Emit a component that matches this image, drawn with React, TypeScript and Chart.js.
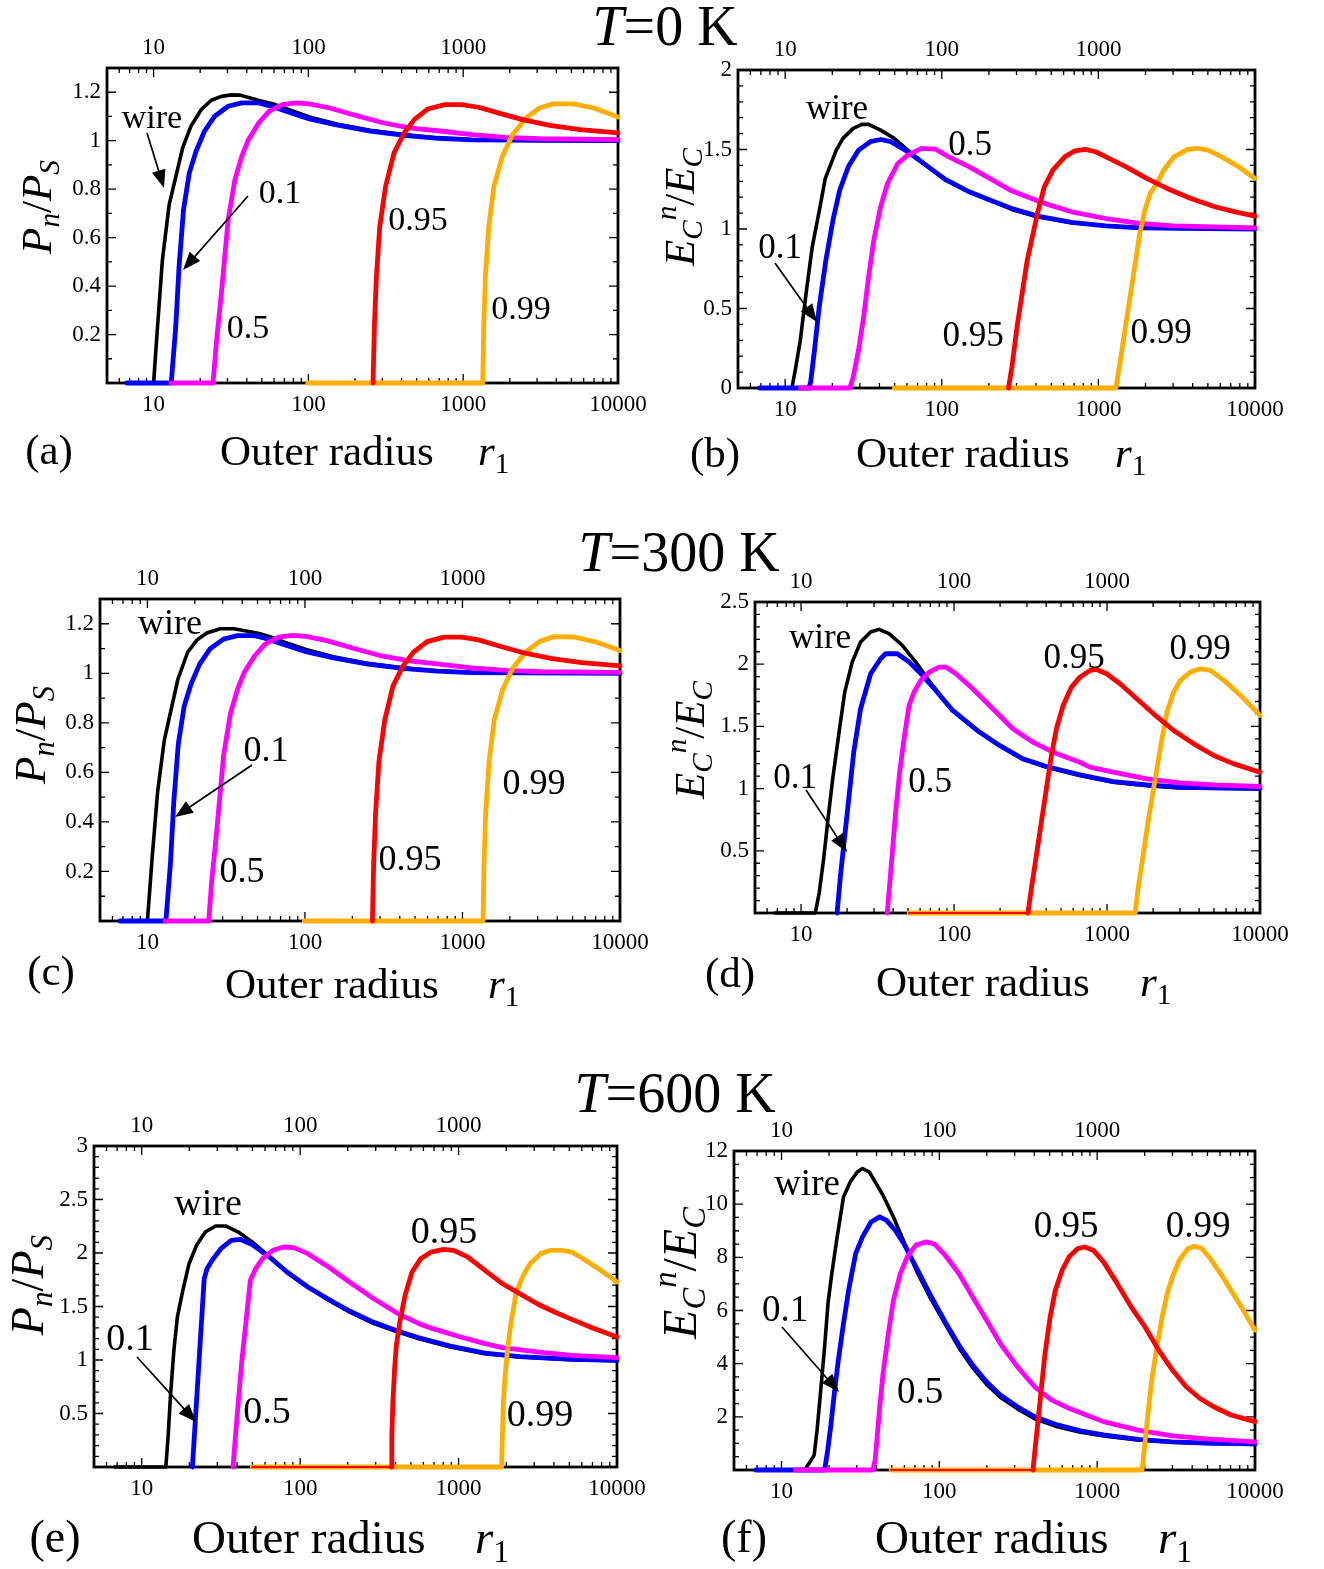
import React, { useEffect, useRef } from 'react';
import { Chart, registerables } from 'chart.js';

Chart.register(...registerables);

type Pt = [number, number];

// ---------- axes ----------
const X_MIN = 5;
const X_MAX = 10000;
const X_BOTTOM_TICKS = [10, 100, 1000, 10000];
const X_TOP_TICKS = [10, 100, 1000];

const Y_TICKS_A = [0.2, 0.4, 0.6, 0.8, 1, 1.2];
const Y_TICKS_B = [0, 0.5, 1, 1.5, 2];
const Y_TICKS_C = [0.2, 0.4, 0.6, 0.8, 1, 1.2];
const Y_TICKS_D = [0.5, 1, 1.5, 2, 2.5];
const Y_TICKS_E = [0.5, 1, 1.5, 2, 2.5, 3];
const Y_TICKS_F = [2, 4, 6, 8, 10, 12];

const SERIES_LABELS = ['wire', '0.1', '0.5', '0.95', '0.99'];

// ---------- (a) T = 0 K, Pn/PS ----------
const A_WIRE: Pt[] = [[6.7, 0], [10.0, 0], [10.6, 0.232], [11.4, 0.508], [12.6, 0.735], [15.4, 0.97], [17.4, 1.059], [20.3, 1.128], [23.6, 1.167], [27.4, 1.183], [31.9, 1.189], [36.2, 1.188], [41.0, 1.178], [50.1, 1.163], [61.3, 1.149], [75.0, 1.128], [101.5, 1.098], [151.8, 1.069], [251, 1.043], [415.6, 1.025], [687.7, 1.011], [1137, 1.004], [3113, 1.0], [10000, 1.0]];
const A_01: Pt[] = [[6.7, 0], [13.0, 0], [13.9, 0.232], [14.6, 0.48], [15.6, 0.714], [17.0, 0.866], [18.8, 0.956], [21.3, 1.039], [24.8, 1.101], [30.3, 1.142], [37.1, 1.156], [47.7, 1.156], [55.6, 1.145], [75, 1.117], [101.5, 1.09], [151.8, 1.065], [251, 1.039], [415.6, 1.022], [687.7, 1.01], [1137, 1.003], [10000, 1.0]];
const A_05: Pt[] = [[12.9, 0], [24.2, 0], [25.4, 0.163], [27.4, 0.37], [30.3, 0.673], [33.5, 0.839], [37.1, 0.935], [41.0, 1.004], [47.7, 1.073], [55.6, 1.121], [67.8, 1.149], [83, 1.156], [101.5, 1.152], [137.3, 1.135], [205.4, 1.103], [307.2, 1.073], [459.5, 1.052], [687.7, 1.041], [1137, 1.025], [1881, 1.014], [3113, 1.008], [10000, 1.004]];
const A_095: Pt[] = [[261.5, 0], [266.8, 0.232], [275, 0.439], [289, 0.646], [315, 0.811], [357, 0.949], [415.6, 1.032], [483, 1.087], [591, 1.131], [760, 1.149], [978, 1.149], [1257, 1.138], [1701, 1.114], [2420, 1.087], [3621, 1.063], [5693, 1.046], [10000, 1.032]];
const A_099: Pt[] = [[99, 0], [1336, 0], [1357, 0.232], [1391, 0.439], [1463, 0.646], [1577, 0.811], [1789, 0.935], [2081, 1.025], [2544, 1.094], [3112, 1.135], [3806, 1.152], [5149, 1.152], [6965, 1.135], [10000, 1.098]];

// ---------- (b) T = 0 K, EC^n/EC ----------
const B_WIRE: Pt[] = [[6.86, 0], [11.04, 0], [11.6, 0.111], [12.5, 0.3], [13.6, 0.594], [14.9, 0.888], [16.7, 1.14], [18.05, 1.318], [21.2, 1.496], [23.4, 1.57], [27.2, 1.633], [30.9, 1.658], [34.1, 1.658], [40.7, 1.622], [49.7, 1.57], [60.7, 1.496], [82.1, 1.391], [105.4, 1.307], [149.8, 1.234], [202.4, 1.182], [287.4, 1.119], [408.3, 1.077], [674.4, 1.039], [1113, 1.02], [1838, 1.007], [10000, 0.999]];
const B_01: Pt[] = [[6.86, 0], [14.19, 0], [14.55, 0.038], [15.3, 0.216], [16.5, 0.51], [18.2, 0.804], [20.2, 1.056], [22.3, 1.244], [25.3, 1.391], [29.4, 1.496], [35.0, 1.549], [40.7, 1.563], [47.3, 1.549], [60.7, 1.486], [82.1, 1.391], [105.4, 1.312], [149.8, 1.234], [202.4, 1.182], [287.4, 1.125], [408.3, 1.081], [674.4, 1.041], [1113, 1.02], [1838, 1.007], [10000, 1.0]];
const B_05: Pt[] = [[12.5, 0], [25.9, 0], [27.2, 0.069], [29.4, 0.237], [31.7, 0.447], [34.1, 0.699], [36.8, 0.93], [40.7, 1.14], [45.0, 1.286], [52.3, 1.412], [60.7, 1.465], [74.2, 1.507], [90.7, 1.503], [110.9, 1.454], [149.8, 1.391], [202.4, 1.318], [273.4, 1.244], [351.3, 1.203], [451.4, 1.161], [674.4, 1.108], [1113, 1.066], [1838, 1.035], [3035, 1.02], [10000, 1.007]];
const B_095: Pt[] = [[266.7, 0], [280.4, 0.132], [302.3, 0.384], [325.8, 0.594], [351.3, 0.804], [378.7, 0.951], [408.3, 1.098], [451.4, 1.265], [511.7, 1.37], [609.8, 1.454], [708.9, 1.492], [823.9, 1.501], [957.8, 1.486], [1170, 1.444], [1504, 1.391], [2032, 1.318], [2745, 1.255], [3898, 1.192], [5539, 1.14], [7484, 1.108], [10000, 1.081]];
const B_099: Pt[] = [[49.7, 0], [1294, 0], [1360, 0.132], [1467, 0.342], [1581, 0.552], [1705, 0.762], [1838, 0.972], [1982, 1.119], [2137, 1.224], [2361, 1.286], [2611, 1.37], [3035, 1.454], [3709, 1.501], [4311, 1.507], [5010, 1.496], [6124, 1.454], [7868, 1.391], [10000, 1.318]];

// ---------- (c) T = 300 K, Pn/PS ----------
const C_WIRE: Pt[] = [[6.7, 0], [10.0, 0], [10.7, 0.25], [11.6, 0.52], [12.8, 0.73], [15.6, 0.975], [18.0, 1.085], [20.6, 1.134], [23.8, 1.163], [29.0, 1.18], [35.5, 1.18], [41.5, 1.172], [50.5, 1.162], [61.3, 1.146], [75.0, 1.125], [101.5, 1.096], [151.8, 1.067], [251, 1.04], [415.6, 1.022], [687.7, 1.01], [1137, 1.003], [3113, 1.0], [10000, 1.0]];
const C_01: Pt[] = [[6.7, 0], [13.1, 0], [14.0, 0.232], [14.7, 0.48], [15.7, 0.714], [17.1, 0.866], [18.9, 0.956], [21.4, 1.036], [24.9, 1.098], [30.4, 1.138], [37.2, 1.152], [47.8, 1.152], [55.7, 1.142], [75, 1.114], [101.5, 1.087], [151.8, 1.062], [251, 1.037], [415.6, 1.02], [687.7, 1.009], [1137, 1.003], [10000, 1.0]];
const C_05: Pt[] = [[12.9, 0], [24.5, 0], [25.6, 0.163], [27.6, 0.37], [30.5, 0.673], [33.7, 0.839], [37.3, 0.935], [41.2, 1.004], [47.9, 1.07], [55.8, 1.118], [68.0, 1.146], [83, 1.153], [101.5, 1.149], [137.3, 1.132], [205.4, 1.1], [307.2, 1.07], [459.5, 1.05], [687.7, 1.038], [1137, 1.022], [1881, 1.012], [3113, 1.007], [10000, 1.004]];
const C_095: Pt[] = [[268, 0], [273, 0.232], [281, 0.439], [295, 0.646], [321, 0.811], [362, 0.949], [420, 1.03], [488, 1.085], [596, 1.128], [765, 1.146], [985, 1.146], [1265, 1.135], [1710, 1.11], [2430, 1.083], [3630, 1.06], [5700, 1.043], [10000, 1.03]];
const C_099: Pt[] = [[99, 0], [1350, 0], [1370, 0.232], [1404, 0.439], [1476, 0.646], [1590, 0.811], [1800, 0.935], [2090, 1.022], [2555, 1.09], [3120, 1.13], [3815, 1.148], [5150, 1.146], [6970, 1.127], [10000, 1.092]];

// ---------- (d) T = 300 K, EC^n/EC ----------
const D_WIRE: Pt[] = [[6.77, 0], [12.39, 0], [13.16, 0.166], [14.05, 0.435], [15.0, 0.756], [16.1, 1.078], [17.6, 1.427], [19.3, 1.776], [21.6, 2.017], [24.5, 2.178], [28.5, 2.259], [32.3, 2.28], [37.6, 2.245], [45.9, 2.151], [56.2, 2.017], [72.3, 1.829], [97.9, 1.628], [146.5, 1.454], [198.2, 1.347], [282.0, 1.239], [401.6, 1.172], [664.6, 1.105], [1100, 1.051], [1821, 1.024], [3015, 1.005], [10000, 0.998]];
const D_01: Pt[] = [[17.2, 0], [18.1, 0.3], [19.0, 0.542], [20.5, 0.917], [22.1, 1.293], [24.5, 1.642], [28.5, 1.923], [33.1, 2.044], [35.7, 2.084], [42.6, 2.084], [50.9, 2.017], [62.2, 1.91], [76.0, 1.789], [97.9, 1.628], [146.5, 1.454], [198.2, 1.347], [282.0, 1.239], [401.6, 1.178], [664.6, 1.11], [1100, 1.056], [1821, 1.03], [3015, 1.011], [10000, 1.003]];
const D_05: Pt[] = [[36.6, 0], [37.9, 0.22], [39.5, 0.488], [41.5, 0.81], [44.1, 1.132], [47.1, 1.4], [50.8, 1.668], [54.8, 1.776], [60.6, 1.87], [68.8, 1.937], [80.0, 1.977], [88.5, 1.977], [102.9, 1.923], [132.4, 1.803], [179.2, 1.642], [242.4, 1.481], [328.1, 1.373], [444.0, 1.293], [664.6, 1.212], [773, 1.172], [1100, 1.132], [1821, 1.078], [3015, 1.046], [4990, 1.03], [10000, 1.017]];
const D_095: Pt[] = [[50.8, 0], [304.2, 0], [319.9, 0.193], [345.1, 0.461], [372.1, 0.73], [401.3, 0.998], [432.9, 1.266], [467.0, 1.481], [516.4, 1.668], [585.7, 1.816], [664.6, 1.896], [773.1, 1.95], [855.1, 1.958], [994.5, 1.923], [1217, 1.843], [1565, 1.722], [2014, 1.601], [2726, 1.467], [3688, 1.36], [4990, 1.266], [6752, 1.199], [10000, 1.132]];
const D_099: Pt[] = [[50.8, 0], [1527, 0], [1605, 0.22], [1732, 0.488], [1868, 0.756], [1964, 0.917], [2118, 1.159], [2285, 1.4], [2465, 1.615], [2726, 1.776], [3015, 1.87], [3507, 1.937], [4079, 1.963], [4746, 1.95], [5806, 1.87], [7469, 1.749], [10000, 1.588]];

// ---------- (e) T = 600 K, Pn/PS ----------
const E_WIRE: Pt[] = [[6.77, 0], [14.2, 0], [14.7, 0.296], [15.2, 0.67], [16.0, 1.106], [16.8, 1.402], [18.1, 1.636], [19.9, 1.9], [22.2, 2.072], [25.2, 2.196], [29.3, 2.252], [34.1, 2.252], [40.7, 2.196], [49.8, 2.103], [64.1, 1.963], [82.5, 1.822], [111.9, 1.682], [151.2, 1.558], [204.7, 1.449], [291.6, 1.34], [415.3, 1.262], [562.3, 1.199], [885.8, 1.121], [1468, 1.059], [2433, 1.028], [5190, 1.003], [10000, 0.994]];
const E_01: Pt[] = [[20.9, 0], [24.8, 1.76], [25.8, 1.85], [27.8, 1.931], [31.6, 2.04], [36.8, 2.118], [41.7, 2.128], [49.8, 2.078], [64.1, 1.963], [82.5, 1.822], [111.9, 1.682], [151.2, 1.567], [204.7, 1.458], [291.6, 1.352], [415.3, 1.268], [562.3, 1.208], [885.8, 1.131], [1468, 1.065], [2433, 1.031], [5190, 1.006], [10000, 0.997]];
const E_05: Pt[] = [[37.7, 0], [39.1, 0.296], [40.7, 0.607], [42.8, 0.981], [45.5, 1.355], [48.5, 1.745], [52.4, 1.854], [57.9, 1.947], [67.4, 2.025], [78.4, 2.056], [91.2, 2.05], [111.9, 1.994], [151.2, 1.869], [204.7, 1.729], [291.6, 1.573], [415.3, 1.433], [562.3, 1.34], [688, 1.293], [1031, 1.215], [1468, 1.153], [1890, 1.115], [3132, 1.075], [5190, 1.044], [10000, 1.022]];
const E_095: Pt[] = [[49.8, 0], [375.3, 0], [379.1, 0.296], [384.9, 0.607], [394.7, 0.919], [404.8, 1.137], [425.8, 1.355], [459.4, 1.604], [508.2, 1.822], [576.6, 1.947], [670.9, 2.009], [800.6, 2.034], [931.6, 2.025], [1140, 1.963], [1467, 1.838], [1890, 1.713], [2432, 1.62], [3131, 1.526], [4031, 1.449], [5190, 1.38], [7028, 1.299], [10000, 1.215]];
const E_099: Pt[] = [[49.8, 0], [1870, 0], [1890, 0.296], [1918, 0.607], [1967, 0.857], [2038, 1.106], [2145, 1.355], [2313, 1.636], [2559, 1.791], [2830, 1.9], [3293, 1.994], [3831, 2.025], [4459, 2.025], [5190, 2.009], [6351, 1.931], [8176, 1.822], [10000, 1.729]];

// ---------- (f) T = 600 K, EC^n/EC ----------
const F_WIRE: Pt[] = [[6.86, 0], [14.0, 0], [14.95, 0.25], [16.1, 0.56], [16.8, 1.5], [17.65, 2.88], [18.75, 4.63], [19.7, 6.26], [20.7, 7.27], [22.35, 8.64], [24.7, 10.27], [27.3, 10.84], [30.2, 11.21], [32.6, 11.34], [36.0, 11.21], [39.8, 10.77], [44.0, 10.33], [51.2, 9.52], [59.5, 8.6], [72.8, 7.4], [89.0, 6.4], [108.8, 5.5], [133.0, 4.6], [162.6, 3.85], [198.8, 3.23], [243.0, 2.74], [312.6, 2.3], [401.7, 1.93], [543.0, 1.65], [771.9, 1.43], [1097, 1.28], [1814, 1.13], [2998, 1.05], [4953, 1.0], [10000, 0.96]];
const F_01: Pt[] = [[6.86, 0], [18.75, 0], [19.5, 0.63], [20.5, 1.63], [21.6, 2.88], [22.9, 4.13], [24.7, 5.51], [26.6, 6.76], [29.5, 8.14], [32.6, 8.77], [36.9, 9.33], [41.9, 9.52], [46.3, 9.39], [52.5, 9.02], [59.5, 8.52], [72.8, 7.52], [89.0, 6.51], [108.8, 5.57], [133.0, 4.7], [162.6, 3.95], [198.8, 3.32], [243.0, 2.82], [312.6, 2.38], [401.7, 2.0], [543.0, 1.72], [771.9, 1.48], [1097, 1.32], [1814, 1.15], [2998, 1.06], [4953, 1.01], [10000, 0.98]];
const F_05: Pt[] = [[12.2, 0], [37.9, 0], [39.2, 0.38], [40.2, 1.13], [41.9, 2.38], [44.0, 3.63], [47.5, 5.14], [51.2, 6.39], [56.6, 7.39], [62.6, 8.02], [71.0, 8.46], [82.5, 8.58], [93.6, 8.49], [108.8, 8.08], [133.0, 7.39], [162.6, 6.51], [198.8, 5.64], [243.0, 4.76], [312.6, 3.88], [401.7, 3.13], [516.4, 2.63], [663.7, 2.32], [853.4, 2.07], [1097, 1.82], [1814, 1.5], [2998, 1.28], [4953, 1.17], [10000, 1.06]];
const F_095: Pt[] = [[49.5, 0], [391.7, 0], [405.7, 0.88], [422.4, 1.88], [444.2, 3.13], [467.1, 4.38], [503.7, 5.76], [543.0, 6.76], [600.4, 7.52], [663.8, 8.02], [752.9, 8.33], [832.5, 8.39], [943.8, 8.27], [1097, 7.83], [1341, 7.01], [1640, 6.14], [2005, 5.39], [2452, 4.51], [2998, 3.76], [3664, 3.13], [4480, 2.69], [5476, 2.38], [7040, 2.07], [10000, 1.82]];
const F_099: Pt[] = [[49.5, 0], [1926, 0], [1985, 0.75], [2087, 2.0], [2216, 3.38], [2390, 4.63], [2578, 5.76], [2779, 6.64], [2998, 7.27], [3314, 7.89], [3756, 8.33], [4154, 8.42], [4594, 8.33], [5209, 7.95], [6055, 7.39], [7040, 6.76], [8185, 6.14], [10000, 5.26]];

// ---------- styling / layout ----------
const SERIF = '"Liberation Serif", "Times New Roman", Times, serif';
const COLORS = ['#000000', '#0000ff', '#ff00ff', '#ff0000', '#ffae00'];
const WIDTHS = [3.6, 4.8, 4.8, 4.8, 4.8];
const ORDERS = [5, 4, 3, 1, 2]; // lower = drawn on top
const PADL = 70, PADR = 45, PADT = 40, PADB = 40;

interface PanelDef {
  id: string;
  box: [number, number, number, number];
  yMax: number;
  yTicks: number[];
  yMajor: number;
  yMinor: number;
  series: Pt[][];
}

const PANELS: PanelDef[] = [
  { id: 'a', box: [107, 68, 618, 383], yMax: 1.3, yTicks: Y_TICKS_A, yMajor: 0.2, yMinor: 0.1, series: [A_WIRE, A_01, A_05, A_095, A_099] },
  { id: 'b', box: [738, 70, 1255, 388], yMax: 2, yTicks: Y_TICKS_B, yMajor: 0.5, yMinor: 0.1, series: [B_WIRE, B_01, B_05, B_095, B_099] },
  { id: 'c', box: [100, 599, 620, 921], yMax: 1.3, yTicks: Y_TICKS_C, yMajor: 0.2, yMinor: 0.1, series: [C_WIRE, C_01, C_05, C_095, C_099] },
  { id: 'd', box: [755, 602, 1260, 913], yMax: 2.5, yTicks: Y_TICKS_D, yMajor: 0.5, yMinor: 0.1, series: [D_WIRE, D_01, D_05, D_095, D_099] },
  { id: 'e', box: [94, 1146, 617, 1467], yMax: 3, yTicks: Y_TICKS_E, yMajor: 0.5, yMinor: 0.1, series: [E_WIRE, E_01, E_05, E_095, E_099] },
  { id: 'f', box: [734, 1151, 1255, 1470], yMax: 12, yTicks: Y_TICKS_F, yMajor: 2, yMinor: 0.5, series: [F_WIRE, F_01, F_05, F_095, F_099] },
];

function makeFramePlugin(def: PanelDef) {
  return {
    id: 'frameTicks',
    beforeDatasetsDraw(chart: any) {
      const { ctx, chartArea: a, scales } = chart;
      const xs = scales.x, ys = scales.y;
      ctx.save();
      ctx.strokeStyle = '#000';
      ctx.lineWidth = 1.3;
      ctx.beginPath();
      const xt = (v: number, len: number) => {
        const p = xs.getPixelForValue(v);
        ctx.moveTo(p, a.bottom); ctx.lineTo(p, a.bottom - len);
        ctx.moveTo(p, a.top); ctx.lineTo(p, a.top + len);
      };
      const yt = (v: number, len: number) => {
        const p = ys.getPixelForValue(v);
        ctx.moveTo(a.left, p); ctx.lineTo(a.left + len, p);
        ctx.moveTo(a.right, p); ctx.lineTo(a.right - len, p);
      };
      for (let d = 1; d < X_MAX; d *= 10) {
        for (let m = 1; m <= 9; m++) {
          const v = m * d;
          if (v <= X_MIN || v >= X_MAX) continue;
          xt(v, m === 1 ? 9 : 5);
        }
      }
      for (let k = 1; k * def.yMinor < def.yMax - 1e-9; k++) {
        const v = k * def.yMinor;
        const r = v / def.yMajor;
        const major = Math.abs(r - Math.round(r)) < 1e-6;
        yt(v, major ? 9 : 5);
      }
      ctx.stroke();
      ctx.lineWidth = 2.8;
      ctx.strokeRect(a.left, a.top, a.right - a.left, a.bottom - a.top);
      ctx.restore();
    },
  };
}

const TICK_FONT = { family: SERIF, size: 23 };

function Panel({ def }: { def: PanelDef }) {
  const ref = useRef<HTMLCanvasElement>(null);
  const [l, t, r, b] = def.box;
  const W = r - l + PADL + PADR;
  const H = b - t + PADT + PADB;
  useEffect(() => {
    const datasets = def.series.map((pts, i) => ({
      label: SERIES_LABELS[i],
      data: pts.map(([x, y]) => ({ x, y })),
      borderColor: COLORS[i],
      backgroundColor: COLORS[i],
      borderWidth: WIDTHS[i],
      pointRadius: 0,
      tension: 0,
      fill: false,
      order: ORDERS[i],
      borderCapStyle: 'round',
      borderJoinStyle: 'round',
      clip: 6,
      xAxisID: 'x',
      yAxisID: 'y',
      segment: i === 3
        ? { borderWidth: (c: any) => (c.p0.parsed.y === 0 && c.p1.parsed.y === 0 ? 2.2 : undefined) }
        : undefined,
    }));
    const xCommon = {
      type: 'logarithmic',
      min: X_MIN,
      max: X_MAX,
      bounds: 'data',
      grid: { display: false, drawTicks: false },
      border: { display: false },
    };
    const chart = new Chart(ref.current as HTMLCanvasElement, {
      type: 'line',
      data: { datasets } as any,
      plugins: [makeFramePlugin(def)],
      options: {
        responsive: false,
        animation: false,
        events: [],
        layout: { padding: { left: 0, top: 0, right: PADR, bottom: 0 } },
        plugins: { legend: { display: false }, tooltip: { enabled: false }, title: { display: false } },
        scales: {
          x: {
            ...xCommon,
            position: 'bottom',
            ticks: { autoSkip: false, maxRotation: 0, minRotation: 0, padding: 8, color: '#000', font: TICK_FONT, callback: (v: any) => String(v) },
            afterBuildTicks: (s: any) => { s.ticks = X_BOTTOM_TICKS.map((v) => ({ value: v })); },
            afterFit: (s: any) => { s.height = PADB; },
          },
          x2: {
            ...xCommon,
            position: 'top',
            ticks: { autoSkip: false, maxRotation: 0, minRotation: 0, padding: 6, color: '#000', font: TICK_FONT, callback: (v: any) => String(v) },
            afterBuildTicks: (s: any) => { s.ticks = X_TOP_TICKS.map((v) => ({ value: v })); },
            afterFit: (s: any) => { s.height = PADT; },
          },
          y: {
            type: 'linear',
            position: 'left',
            min: 0,
            max: def.yMax,
            bounds: 'data',
            grid: { display: false, drawTicks: false },
            border: { display: false },
            ticks: { autoSkip: false, padding: 6, color: '#000', font: TICK_FONT, callback: (v: any) => String(v) },
            afterBuildTicks: (s: any) => { s.ticks = def.yTicks.map((v) => ({ value: v })); },
            afterFit: (s: any) => { s.width = PADL; },
          },
        },
      } as any,
    });
    return () => chart.destroy();
  }, []);
  return (
    <canvas
      ref={ref}
      width={W}
      height={H}
      style={{ position: 'absolute', left: l - PADL, top: t - PADT, width: W, height: H }}
    />
  );
}

// ---------- text helpers ----------
const Sub = ({ children }: any) => (
  <span style={{ fontSize: '0.68em', position: 'relative', top: '0.28em' }}>{children}</span>
);
const Sup = ({ children }: any) => (
  <span style={{ fontSize: '0.68em', position: 'relative', top: '-0.6em' }}>{children}</span>
);

function Txt({ x, y, size, children, left = false, rotate = 0 }: any) {
  const tx = left ? '0' : '-50%';
  return (
    <div
      style={{
        position: 'absolute',
        left: x,
        top: y,
        fontFamily: SERIF,
        fontSize: size,
        lineHeight: 1,
        whiteSpace: 'nowrap',
        color: '#000',
        transform: `translate(${tx}, -50%)${rotate ? ` rotate(${rotate}deg)` : ''}`,
      }}
    >
      {children}
    </div>
  );
}

const TITLES = [
  { text: '=0 K', x: 665, y: 26 },
  { text: '=300 K', x: 679, y: 552 },
  { text: '=600 K', x: 675, y: 1093 },
];

const PANEL_LABELS = [
  { text: '(a)', x: 49, y: 449, size: 43 },
  { text: '(b)', x: 715, y: 452, size: 43 },
  { text: '(c)', x: 51, y: 970, size: 43 },
  { text: '(d)', x: 730, y: 972, size: 43 },
  { text: '(e)', x: 55, y: 1537, size: 46 },
  { text: '(f)', x: 744, y: 1537, size: 46 },
];

const X_TITLES = [
  { x: 220, rx: 478, y: 450, size: 43 },
  { x: 856, rx: 1115, y: 452, size: 43 },
  { x: 225, rx: 488, y: 983, size: 43 },
  { x: 876, rx: 1140, y: 981, size: 43 },
  { x: 192, rx: 475, y: 1537, size: 47 },
  { x: 875, rx: 1158, y: 1537, size: 47 },
];

const Y_TITLES = [
  { kind: 'P', x: 36, y: 207, size: 43 },
  { kind: 'E', x: 679, y: 207, size: 43 },
  { kind: 'P', x: 30, y: 735, size: 45 },
  { kind: 'E', x: 689, y: 740, size: 43 },
  { kind: 'P', x: 28, y: 1285, size: 46 },
  { kind: 'E', x: 680, y: 1273, size: 48 },
];

const ANNOTATIONS = [
  { size: 34, items: [['wire', 152, 117], ['0.1', 280, 192], ['0.5', 248, 327], ['0.95', 418, 219], ['0.99', 521, 308]] },
  { size: 35, items: [['wire', 837, 107], ['0.5', 970, 143], ['0.1', 780, 246], ['0.95', 973, 334], ['0.99', 1161, 331]] },
  { size: 36, items: [['wire', 170, 622], ['0.1', 266, 749], ['0.5', 242, 870], ['0.95', 410, 858], ['0.99', 534, 782]] },
  { size: 35, items: [['wire', 820, 636], ['0.95', 1074, 656], ['0.99', 1200, 647], ['0.1', 795, 776], ['0.5', 930, 780]] },
  { size: 38, items: [['wire', 208, 1202], ['0.95', 444, 1230], ['0.1', 130, 1337], ['0.5', 267, 1410], ['0.99', 540, 1413]] },
  { size: 37, items: [['wire', 807, 1182], ['0.95', 1066, 1224], ['0.99', 1198, 1224], ['0.1', 785, 1308], ['0.5', 920, 1390]] },
];

const ARROWS: [number, number, number, number][] = [
  [147, 133, 164, 188],
  [248, 196, 183, 270],
  [775, 263, 817, 322],
  [252, 765, 175, 817],
  [806, 790, 847, 852],
  [137, 1357, 196, 1422],
  [782, 1327, 839, 1392],
];

function YTitle({ kind }: { kind: string }) {
  if (kind === 'P') {
    return (
      <span>
        <i>P</i><Sub><i>n</i></Sub>/<i>P</i><Sub><i>S</i></Sub>
      </span>
    );
  }
  return (
    <span>
      <i>E</i><Sub><i>C</i></Sub><Sup><i>n</i></Sup>/<i>E</i><Sub><i>C</i></Sub>
    </span>
  );
}

export default function App() {
  return (
    <div style={{ position: 'absolute', left: 0, top: 0, width: 1324, height: 1569, background: '#fff', overflow: 'hidden' }}>
      {PANELS.map((p) => (
        <Panel key={p.id} def={p} />
      ))}
      <svg style={{ position: 'absolute', left: 0, top: 0 }} width={1324} height={1569}>
        {ARROWS.map(([x1, y1, x2, y2], i) => {
          const dx = x2 - x1, dy = y2 - y1;
          const L = Math.hypot(dx, dy);
          const ux = dx / L, uy = dy / L;
          const hl = 18, hw = 7;
          const bx = x2 - ux * hl, by = y2 - uy * hl;
          return (
            <g key={i}>
              <line x1={x1} y1={y1} x2={bx + ux * 2} y2={by + uy * 2} stroke="#000" strokeWidth={1.7} />
              <polygon
                points={`${x2},${y2} ${bx - uy * hw},${by + ux * hw} ${bx + uy * hw},${by - ux * hw}`}
                fill="#000"
              />
            </g>
          );
        })}
      </svg>
      {TITLES.map((t, i) => (
        <Txt key={'t' + i} x={t.x} y={t.y} size={56}>
          <i>T</i>{t.text}
        </Txt>
      ))}
      {PANEL_LABELS.map((t, i) => (
        <Txt key={'pl' + i} x={t.x} y={t.y} size={t.size}>{t.text}</Txt>
      ))}
      {X_TITLES.map((t, i) => (
        <React.Fragment key={'xt' + i}>
          <Txt x={t.x} y={t.y} size={t.size} left>Outer radius</Txt>
          <Txt x={t.rx} y={t.y} size={t.size} left>
            <i>r</i><Sub>1</Sub>
          </Txt>
        </React.Fragment>
      ))}
      {Y_TITLES.map((t, i) => (
        <Txt key={'yt' + i} x={t.x} y={t.y} size={t.size} rotate={-90}>
          <YTitle kind={t.kind} />
        </Txt>
      ))}
      {ANNOTATIONS.map((g, gi) =>
        g.items.map(([txt, x, y], i) => (
          <Txt key={'an' + gi + '_' + i} x={x} y={y} size={g.size}>{txt}</Txt>
        ))
      )}
    </div>
  );
}
